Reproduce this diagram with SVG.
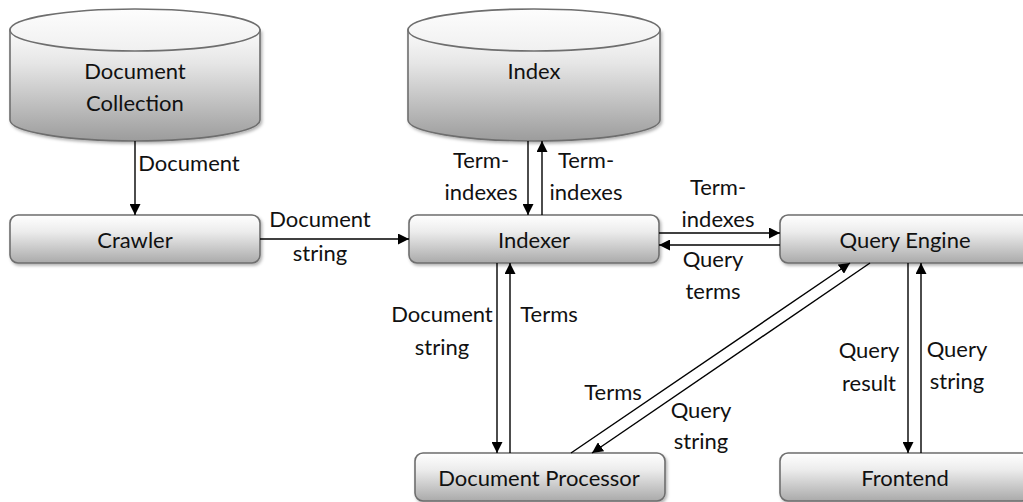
<svg xmlns="http://www.w3.org/2000/svg" width="1023" height="502" viewBox="0 0 1023 502">
<style>
  text { font-family: Lato, "Liberation Sans", sans-serif; font-size: 22px; fill: #111; text-anchor: middle; }
  .box { fill: url(#boxGrad); stroke: #6e6e6e; stroke-width: 1.6; filter: url(#shadow); }
  .cyl { fill: url(#cylGrad); stroke: #6e6e6e; stroke-width: 1.6; filter: url(#shadow); }
  .top { fill: url(#topGrad); stroke: #6e6e6e; stroke-width: 1.6; }
  .conn { stroke: #000; stroke-width: 1.4; fill: none; marker-end: url(#arrow); }
</style>
<defs>
  <linearGradient id="boxGrad" x1="0" y1="0" x2="0" y2="1">
    <stop offset="0" stop-color="#ffffff"/>
    <stop offset="0.35" stop-color="#ececec"/>
    <stop offset="1" stop-color="#aaaaaa"/>
  </linearGradient>
  <linearGradient id="cylGrad" x1="0" y1="0" x2="0" y2="1">
    <stop offset="0" stop-color="#fafafa"/>
    <stop offset="0.3" stop-color="#e6e6e6"/>
    <stop offset="1" stop-color="#9c9c9c"/>
  </linearGradient>
  <linearGradient id="topGrad" x1="0" y1="0" x2="0" y2="1">
    <stop offset="0" stop-color="#fdfdfd"/>
    <stop offset="1" stop-color="#f0f0f0"/>
  </linearGradient>
  <filter id="shadow" x="-5%" y="-10%" width="115%" height="130%">
    <feDropShadow dx="1.5" dy="2" stdDeviation="1.5" flood-color="#000" flood-opacity="0.3"/>
  </filter>
  <marker id="arrow" viewBox="0 0 10 10" refX="10" refY="5" markerWidth="11" markerHeight="11" markerUnits="userSpaceOnUse" orient="auto">
    <path d="M0,0 L10,5 L0,10 Z" fill="#000"/>
  </marker>
</defs>

<g id="document-collection">
  <path class="cyl" d="M10,30 L10,120 A125,21 0 0 0 260,120 L260,30 Z"/>
  <ellipse class="top" cx="135" cy="30" rx="125" ry="21"/>
  <text x="135" y="79">Document</text>
  <text x="135" y="111">Collection</text>
</g>

<g id="index">
  <path class="cyl" d="M408,30 L408,120 A126,21 0 0 0 660,120 L660,30 Z"/>
  <ellipse class="top" cx="534" cy="30" rx="126" ry="21"/>
  <text x="534" y="79">Index</text>
</g>

<g id="crawler">
  <rect class="box" x="10" y="215" width="250" height="48" rx="8"/>
  <text x="135" y="248">Crawler</text>
</g>

<g id="indexer">
  <rect class="box" x="409" y="215" width="250" height="48" rx="8"/>
  <text x="534" y="248">Indexer</text>
</g>

<g id="query-engine">
  <rect class="box" x="780" y="215" width="250" height="48" rx="8"/>
  <text x="905" y="248">Query Engine</text>
</g>

<g id="document-processor">
  <rect class="box" x="415" y="453" width="250" height="48" rx="8"/>
  <text x="539" y="486">Document Processor</text>
</g>

<g id="frontend">
  <rect class="box" x="780" y="453" width="250" height="48" rx="8"/>
  <text x="905" y="486">Frontend</text>
</g>

<g id="connectors">
  <line class="conn" x1="135" y1="141" x2="135" y2="215"/>
  <line class="conn" x1="260" y1="239" x2="409" y2="239"/>
  <line class="conn" x1="528" y1="141" x2="528" y2="215"/>
  <line class="conn" x1="542" y1="215" x2="542" y2="141"/>
  <line class="conn" x1="659" y1="233" x2="780" y2="233"/>
  <line class="conn" x1="780" y1="245" x2="659" y2="245"/>
  <line class="conn" x1="497" y1="263" x2="497" y2="453"/>
  <line class="conn" x1="510" y1="453" x2="510" y2="263"/>
  <line class="conn" x1="571" y1="453" x2="850" y2="263"/>
  <line class="conn" x1="870" y1="263" x2="592" y2="453"/>
  <line class="conn" x1="908" y1="263" x2="908" y2="453"/>
  <line class="conn" x1="921" y1="453" x2="921" y2="263"/>
</g>

<g id="labels">
  <text x="189" y="171">Document</text>
  <text x="320" y="227">Document</text>
  <text x="320" y="261">string</text>
  <text x="481" y="168">Term-</text>
  <text x="481" y="200">indexes</text>
  <text x="586" y="168">Term-</text>
  <text x="586" y="200">indexes</text>
  <text x="718" y="195">Term-</text>
  <text x="718" y="227">indexes</text>
  <text x="713" y="267">Query</text>
  <text x="713" y="299">terms</text>
  <text x="442" y="322">Document</text>
  <text x="442" y="355">string</text>
  <text x="549" y="322">Terms</text>
  <text x="613" y="400">Terms</text>
  <text x="701" y="418">Query</text>
  <text x="701" y="449">string</text>
  <text x="869" y="358">Query</text>
  <text x="869" y="391">result</text>
  <text x="957" y="357">Query</text>
  <text x="957" y="389">string</text>
</g>
</svg>
